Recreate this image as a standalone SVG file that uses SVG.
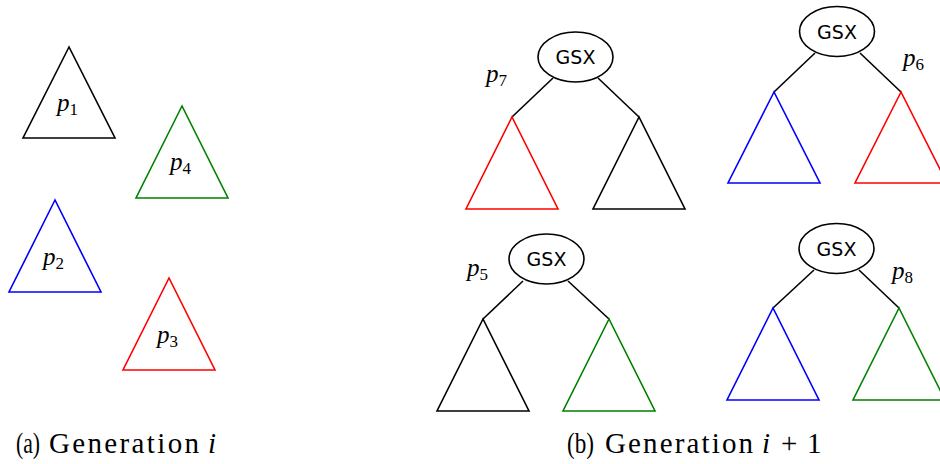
<svg xmlns="http://www.w3.org/2000/svg" width="940" height="464" viewBox="0 0 940 464">
<style>
.t{fill:none;stroke-width:1.6;stroke-linejoin:miter}
.k{stroke:#000}.b{stroke:#0000ff}.r{stroke:#ff0000}.g{stroke:#008000}
.e{fill:#fff;stroke:#000;stroke-width:1.6}
.c{fill:none;stroke:#000;stroke-width:1.6}
.gsx{font-family:"DejaVu Sans",sans-serif;font-size:19px;text-anchor:middle;fill:#000}
.p{font-family:"Liberation Serif",serif;font-style:italic;font-size:25px;fill:#000}
.s{font-style:normal;font-size:17px}
.cap{font-family:"Liberation Serif",serif;font-size:29px;fill:#000}
.it{font-style:italic}
</style>
<rect width="940" height="464" fill="#fff"/>
<g id="p1"><polygon class="t k" points="69,47 23,138 115,138"/><text class="p" x="57" y="111">p<tspan class="s" dy="4">1</tspan></text></g>
<g id="p4"><polygon class="t g" points="182,106 136,198 228,198"/><text class="p" x="170" y="170">p<tspan class="s" dy="4">4</tspan></text></g>
<g id="p2"><polygon class="t b" points="55,200 9,292 101,292"/><text class="p" x="43" y="265">p<tspan class="s" dy="4">2</tspan></text></g>
<g id="p3"><polygon class="t r" points="169,278 123,370 215,370"/><text class="p" x="157" y="343">p<tspan class="s" dy="4">3</tspan></text></g>

<g id="connectors">
<line class="c" x1="553" y1="78" x2="512" y2="117"/><line class="c" x1="598" y1="78" x2="639" y2="117"/>
<line class="c" x1="815" y1="53" x2="774" y2="92"/><line class="c" x1="860" y1="53" x2="901" y2="92"/>
<line class="c" x1="523" y1="281" x2="483" y2="319"/><line class="c" x1="568" y1="281" x2="609" y2="319"/>
<line class="c" x1="814" y1="270" x2="773" y2="308"/><line class="c" x1="859" y1="270" x2="899" y2="308"/>
</g>

<g id="p7"><ellipse class="e" cx="575.5" cy="57" rx="37.5" ry="25"/><text class="gsx" x="575.5" y="64">GSX</text>
<text class="p" x="486" y="82">p<tspan class="s" dy="4">7</tspan></text>
<polygon class="t r" points="512,117 466,209 558,209"/><polygon class="t k" points="639,117 593,209 685,209"/></g>
<g id="p6"><ellipse class="e" cx="837" cy="31.5" rx="37.5" ry="25"/><text class="gsx" x="837" y="38.5">GSX</text>
<text class="p" x="903" y="66">p<tspan class="s" dy="4">6</tspan></text>
<polygon class="t b" points="774,92 728,183 820,183"/><polygon class="t r" points="901,92 855,183 947,183"/></g>
<g id="p5"><ellipse class="e" cx="546.5" cy="259" rx="37.5" ry="25"/><text class="gsx" x="546.5" y="266">GSX</text>
<text class="p" x="467" y="276">p<tspan class="s" dy="4">5</tspan></text>
<polygon class="t k" points="483,319 437,411 529,411"/><polygon class="t g" points="609,319 563,411 655,411"/></g>
<g id="p8"><ellipse class="e" cx="836.5" cy="248.5" rx="37.5" ry="25"/><text class="gsx" x="836.5" y="255.5">GSX</text>
<text class="p" x="892" y="279">p<tspan class="s" dy="4">8</tspan></text>
<polygon class="t b" points="773,308 727,400 819,400"/><polygon class="t g" points="899,308 853,400 945,400"/></g>

<text class="cap" y="453"><tspan x="16" textLength="24" lengthAdjust="spacingAndGlyphs">(a)</tspan><tspan x="49" textLength="150" lengthAdjust="spacing">Generation</tspan><tspan class="it" x="208">i</tspan></text>
<text class="cap" y="453"><tspan x="567" textLength="27" lengthAdjust="spacingAndGlyphs">(b)</tspan><tspan x="605" textLength="148" lengthAdjust="spacing">Generation</tspan><tspan class="it" x="762">i</tspan><tspan x="781">+</tspan><tspan x="807">1</tspan></text>
</svg>
